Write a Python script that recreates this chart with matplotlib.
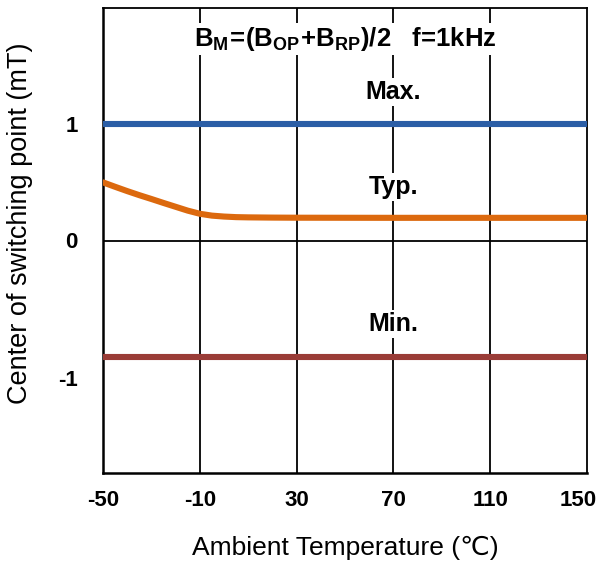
import matplotlib
matplotlib.use("Agg")
import matplotlib.pyplot as plt
import matplotlib.transforms as mtransforms

plt.rcParams['font.family'] = ['Liberation Sans', 'DejaVu Sans', 'Noto Sans CJK JP']
plt.rcParams['mathtext.fontset'] = 'custom'
plt.rcParams['mathtext.rm'] = 'Liberation Sans:bold'
plt.rcParams['mathtext.bf'] = 'Liberation Sans:bold'
plt.rcParams['mathtext.it'] = 'Liberation Sans:bold'

# Data
temp_max = [-50, 150]
val_max = [1.0, 1.0]
temp_typ = [-50, -45, -40, -35, -30, -25, -20, -15, -10, -5, 0, 5, 10, 20, 30, 70, 110, 150]
val_typ = [0.50, 0.462, 0.425, 0.39, 0.357, 0.323, 0.29, 0.257, 0.23, 0.214, 0.206, 0.201,
           0.199, 0.197, 0.196, 0.195, 0.195, 0.195]
temp_min = [-50, 150]
val_min = [-1.0, -1.0]
x_ticks = [-50, -10, 30, 70, 110, 150]
y_ticks = [1, 0, -1]

fig = plt.figure(figsize=(6.01, 5.65), dpi=100)
ax = fig.add_axes([103/601, 1-473/565, 484/601, 465/565])
ax.set_xlim(-50, 150)
ax.set_ylim(-2, 2)

for xv in x_ticks[1:-1]:
    ax.axvline(xv, color='black', lw=1.3, zorder=1)
ax.axhline(0, color='black', lw=1.3, zorder=1)

ax.plot(temp_max, val_max, color='#2b5ea6', lw=4.4, solid_capstyle='round', zorder=3)
ax.plot(temp_typ, val_typ, color='#dc690e', lw=4.4, solid_capstyle='round',
        solid_joinstyle='round', zorder=3)
ax.plot(temp_min, val_min, color='#9a3c37', lw=4.4, solid_capstyle='round', zorder=3)

box = dict(facecolor='white', edgecolor='none', pad=1.5)
ax.text(70, 1.28, 'Max.', ha='center', va='center', fontsize=18, fontweight='bold', bbox=box, zorder=4)
ax.text(70, 0.46, 'Typ.', ha='center', va='center', fontsize=18, fontweight='bold', bbox=box, zorder=4)
ax.text(70, -0.72, 'Min.', ha='center', va='center', fontsize=18, fontweight='bold', bbox=box, zorder=4)
ax.text(50, 1.73, r'$\mathrm{B_{M}\!=\!(B_{OP}\!+\!B_{RP})/2}$' + '   f=1kHz', ha='center', va='center',
        fontsize=18.5, fontweight='bold', bbox=box, zorder=4)

ax.set_xticks(x_ticks)
ax.set_xticklabels([str(v) for v in x_ticks], fontsize=16, fontweight='bold')
ax.set_yticks(y_ticks)
ax.set_yticklabels([str(v) for v in y_ticks], fontsize=16, fontweight='bold')
ax.tick_params(axis='both', length=0)
ax.tick_params(axis='x', pad=12)
ax.tick_params(axis='y', pad=18)
# the "-1" label sits a bit lower in the reference
lbl = ax.get_yticklabels()[2]
lbl.set_transform(lbl.get_transform() + mtransforms.ScaledTranslation(0, -0.21, fig.dpi_scale_trans))
# the "150" label sits a bit left of its gridline so it stays inside the picture
lbl = ax.get_xticklabels()[-1]
lbl.set_transform(lbl.get_transform() + mtransforms.ScaledTranslation(-0.09, 0, fig.dpi_scale_trans))

for s in ['left', 'bottom']:
    ax.spines[s].set_linewidth(1.8)
for s in ['top', 'right']:
    ax.spines[s].set_linewidth(1.3)

ax.set_xlabel('Ambient Temperature (℃)', fontsize=19, labelpad=18)
ax.set_ylabel('Center of switching point (mT)', fontsize=19.5)
ax.yaxis.set_label_coords(-0.145, 0.538)

fig.savefig('out.png', dpi=100)
